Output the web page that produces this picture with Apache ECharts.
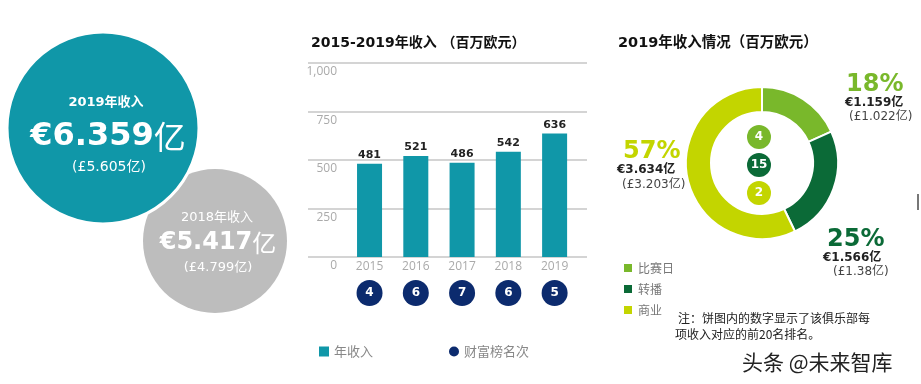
<!DOCTYPE html>
<html><head><meta charset="utf-8">
<script src="https://cdn.jsdelivr.net/npm/echarts@6/dist/echarts.min.js"></script>
<style>html,body{margin:0;padding:0;background:#fff}#c{width:921px;height:384px}</style>
</head><body><div id="c"></div>
<script>
// ---- data ----
var years = [2015, 2016, 2017, 2018, 2019];
var revenue = [481, 521, 486, 542, 636];
var ranks = [4, 6, 7, 6, 5];
var yTicks = [0, 250, 500, 750, 1000];

var pieNames = ['比赛日', '转播', '商业'];
var pieValues = [115.9, 156.6, 363.4];
var pieShares = ['18%', '25%', '57%'];
var pieEur = ['€1.159亿', '€1.566亿', '€3.634亿'];
var pieGbp = ['(£1.022亿)', '(£1.38亿)', '(£3.203亿)'];
var pieRanks = [4, 15, 2];

var bubbleTitles = ['2019年收入', '2018年收入'];
var bubbleEur = ['€6.359', '€5.417'];
var bubbleGbp = ['(£5.605亿)', '(£4.799亿)'];

var titleBar = '2015-2019年收入 （百万欧元）';
var titlePie = '2019年收入情况（百万欧元）';
var noteLines = ['注：饼图内的数字显示了该俱乐部每', '项收入对应的前20名排名。'];
var watermark = '头条 @未来智库';

// ---- style ----
var TEAL = '#1097a8', GREY = '#bdbdbd', NAVY = '#0c2b6e';
var pieColors = ['#79b82b', '#0b6a37', '#c3d500'];
var NUM = 'DejaVu Sans, Noto Sans CJK SC, sans-serif';
var CJK = 'Noto Sans CJK SC, sans-serif';
var AX = 'Open Sans, Noto Sans CJK SC, sans-serif';

var chart = echarts.init(document.getElementById('c'));

var xMin = 2013.67, xMax = 2019.7;

var graphics = [];
// bubbles
graphics.push({type:'circle', shape:{cx:215, cy:241, r:72}, style:{fill:GREY}, z:1});
graphics.push({type:'circle', shape:{cx:103, cy:128, r:96}, style:{fill:TEAL, stroke:'#fff', lineWidth:3}, z:2});
graphics.push({type:'text', x:106, y:103, z:3, style:{text:bubbleTitles[0], fill:'#fff', font:'bold 13px ' + NUM, align:'center', verticalAlign:'middle'}});
graphics.push({type:'text', x:108, y:137, z:3, style:{text:'{a|' + bubbleEur[0] + '}{b|亿}', align:'center', verticalAlign:'middle',
  rich:{a:{fill:'#fff', fontFamily:NUM, fontWeight:'bold', fontSize:32}, b:{fill:'#fff', fontFamily:CJK, fontSize:32}}}});
graphics.push({type:'text', x:109, y:167, z:3, style:{text:bubbleGbp[0], fill:'#fff', font:'14px ' + NUM, align:'center', verticalAlign:'middle'}});
graphics.push({type:'text', x:217, y:218, z:3, style:{text:bubbleTitles[1], fill:'#fff', font:'13px ' + NUM, align:'center', verticalAlign:'middle'}});
graphics.push({type:'text', x:218, y:243, z:3, style:{text:'{a|' + bubbleEur[1] + '}{b|亿}', align:'center', verticalAlign:'middle',
  rich:{a:{fill:'#fff', fontFamily:NUM, fontWeight:'bold', fontSize:24}, b:{fill:'#fff', fontFamily:CJK, fontSize:24}}}});
graphics.push({type:'text', x:218, y:268, z:3, style:{text:bubbleGbp[1], fill:'#fff', font:'13px ' + NUM, align:'center', verticalAlign:'middle'}});
// titles
graphics.push({type:'text', x:311, y:43, style:{text:titleBar, fill:'#111', font:'bold 14px ' + NUM, verticalAlign:'middle'}});
graphics.push({type:'text', x:618, y:43, style:{text:titlePie, fill:'#111', font:'bold 14.5px ' + NUM, verticalAlign:'middle'}});
// pie annotations
var annPos = [[846, 85, 845, 103, 849, 117], [827, 240, 823, 258, 833, 272], [623, 152, 617, 170, 622, 185]];
for (var i = 0; i < 3; i++) {
  var p = annPos[i];
  graphics.push({type:'text', x:p[0], y:p[1], style:{text:pieShares[i], fill:pieColors[i], font:'bold 24px ' + NUM, verticalAlign:'middle'}});
  graphics.push({type:'text', x:p[2], y:p[3], style:{text:pieEur[i], fill:'#222', font:'bold 12px ' + NUM, verticalAlign:'middle'}});
  graphics.push({type:'text', x:p[4], y:p[5], style:{text:pieGbp[i], fill:'#444', font:'12px ' + NUM, verticalAlign:'middle'}});
}
graphics.push({type:'text', x:678, y:318, style:{text:noteLines[0], fill:'#222', font:'12px ' + CJK, verticalAlign:'middle'}});
graphics.push({type:'text', x:675, y:334, style:{text:noteLines[1], fill:'#222', font:'12px ' + CJK, verticalAlign:'middle'}});
graphics.push({type:'text', x:742, y:362, style:{text:watermark, fill:'#222', font:'21px ' + CJK, verticalAlign:'middle', stroke:'#fff', lineWidth:1}});
graphics.push({type:'rect', shape:{x:917, y:194, width:2, height:16}, style:{fill:'#777'}});

var option = {
  animation: false,
  backgroundColor: '#fff',
  graphic: graphics,
  legend: [
    {left: 314, top: 340, itemWidth: 10, itemHeight: 10, itemGap: 76,
     textStyle: {color: '#888', fontSize: 13, fontFamily: CJK},
     data: [{name: '年收入', icon: 'rect'}, {name: '财富榜名次', icon: 'circle'}]},
    {left: 617, top: 257, orient: 'vertical', itemWidth: 10, itemHeight: 10, itemGap: 9,
     textStyle: {color: '#777', fontSize: 12, fontFamily: CJK},
     data: pieNames.map(function (n) { return {name: n, icon: 'rect'}; })}
  ],
  grid: [
    {left: 308, width: 279, top: 63, height: 194},
    {left: 308, width: 279, top: 280, height: 26},
    {left: 747, width: 24, top: 123, height: 84}
  ],
  xAxis: [
    {type: 'value', gridIndex: 0, min: xMin, max: xMax, splitLine: {show: false}, axisLine: {show: false}, axisTick: {show: false},
     axisLabel: {customValues: years, formatter: function (v) { return String(Math.round(v)); }, color: '#aaa', fontSize: 12, fontFamily: AX, margin: 4}},
    {type: 'value', gridIndex: 1, min: xMin, max: xMax, show: false},
    {type: 'value', gridIndex: 2, min: -1, max: 1, show: false}
  ],
  yAxis: [
    {type: 'value', gridIndex: 0, min: 0, max: 1000, interval: 250, axisLine: {show: false}, axisTick: {show: false},
     splitLine: {lineStyle: {color: '#d4d4d4', width: 2}},
     axisLabel: {inside: true, align: 'right', margin: 29, verticalAlign: 'top', padding: [3, 0, 0, 0], color: '#aaa', fontSize: 12, fontFamily: AX,
       formatter: function (v) { return v === 1000 ? '1,000' : String(v); }}},
    {type: 'value', gridIndex: 1, min: 0, max: 1, show: false},
    {type: 'category', gridIndex: 2, data: pieRanks.map(String), inverse: true, show: false}
  ],
  series: [
    {name: '年收入', type: 'bar', xAxisIndex: 0, yAxisIndex: 0, barWidth: 25,
     data: years.map(function (y, i) { return [y, revenue[i]]; }),
     itemStyle: {color: TEAL},
     label: {show: true, position: 'top', distance: 3, color: '#222', fontWeight: 'bold', fontSize: 11, fontFamily: NUM,
       formatter: function (p) { return p.value[1]; }}},
    {name: '财富榜名次', type: 'scatter', xAxisIndex: 1, yAxisIndex: 1, symbolSize: 26,
     data: years.map(function (y) { return [y, 0.5]; }),
     itemStyle: {color: NAVY, opacity: 1},
     label: {show: true, position: 'inside', color: '#fff', fontWeight: 'bold', fontSize: 12, fontFamily: NUM,
       formatter: function (p) { return ranks[p.dataIndex]; }}},
    {name: '2019收入构成', type: 'pie', center: [762, 163], radius: [51, 76], startAngle: 90, clockwise: true,
     data: pieNames.map(function (n, i) { return {name: n, value: pieValues[i], itemStyle: {color: pieColors[i]}}; }),
     itemStyle: {borderColor: '#fff', borderWidth: 2},
     label: {show: false}, labelLine: {show: false}, emphasis: {disabled: true}},
    {name: '排名', type: 'scatter', xAxisIndex: 2, yAxisIndex: 2, symbolSize: 24,
     data: pieRanks.map(function (r, i) { return {value: [0, i], itemStyle: {color: pieColors[i], opacity: 1}}; }),
     label: {show: true, position: 'inside', color: '#fff', fontWeight: 'bold', fontSize: 12, fontFamily: NUM,
       formatter: function (p) { return pieRanks[p.dataIndex]; }}}
  ]
};
chart.setOption(option);
</script></body></html>
